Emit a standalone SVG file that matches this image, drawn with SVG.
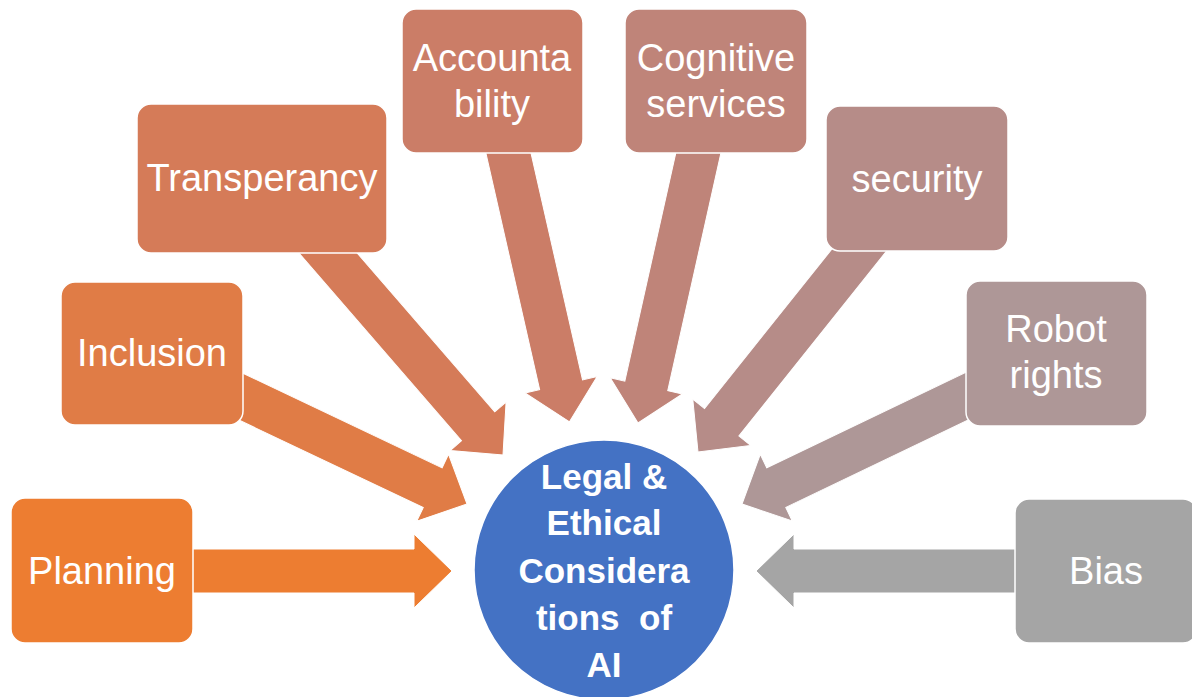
<svg xmlns="http://www.w3.org/2000/svg" width="1192" height="697" viewBox="0 0 1192 697">
<style>
.bx{stroke:#ffffff;stroke-width:1.5}
.ar{stroke:#ffffff;stroke-width:1}
.lbl{font-family:"Liberation Sans",Arial,sans-serif;font-size:38px;fill:#ffffff;text-anchor:middle}
.ctr{font-family:"Liberation Sans",Arial,sans-serif;font-size:35px;font-weight:bold;fill:#ffffff;text-anchor:middle}
.c0{fill:#ED7D31}.c1{fill:#E07C46}.c2{fill:#D57B58}.c3{fill:#CB7D67}
.c4{fill:#BF8479}.c5{fill:#B68C88}.c6{fill:#AE9797}.c7{fill:#A5A5A5}
</style>
<rect width="1192" height="697" fill="#ffffff"/>
<g id="connectors">
<polygon class="ar c0" transform="translate(452,571) rotate(0)" points="0,0 -38,-37 -38,-22 -262,-22 -262,22 -38,22 -38,37"/>
<polygon class="ar c1" transform="translate(467,504) rotate(25.4)" points="0,0 -38,-37 -38,-22 -300,-22 -300,22 -38,22 -38,37"/>
<polygon class="ar c2" transform="translate(503,455) rotate(49.1)" points="0,0 -38,-37 -38,-22 -300,-22 -300,22 -38,22 -38,37"/>
<polygon class="ar c3" transform="translate(569.5,421.8) rotate(77.2)" points="0,0 -38,-37 -38,-22 -300,-22 -300,22 -38,22 -38,37"/>
<polygon class="ar c4" transform="translate(638,423) rotate(102.6)" points="0,0 -38,-37 -38,-22 -300,-22 -300,22 -38,22 -38,37"/>
<polygon class="ar c5" transform="translate(698,452) rotate(128.6)" points="0,0 -38,-37 -38,-22 -290,-22 -290,22 -38,22 -38,37"/>
<polygon class="ar c6" transform="translate(742,504) rotate(154.4)" points="0,0 -38,-37 -38,-22 -290,-22 -290,22 -38,22 -38,37"/>
<polygon class="ar c7" transform="translate(756,571) rotate(180)" points="0,0 -38,-37 -38,-22 -262,-22 -262,22 -38,22 -38,37"/>
</g>
<g id="planning">
<rect class="bx c0" x="11" y="498" width="182" height="145" rx="14"/>
<text class="lbl" x="102" y="584">Planning</text>
</g>
<g id="inclusion">
<rect class="bx c1" x="61" y="282" width="182" height="143" rx="14"/>
<text class="lbl" x="152" y="366">Inclusion</text>
</g>
<g id="transperancy">
<rect class="bx c2" x="137" y="104" width="250" height="149" rx="14"/>
<text class="lbl" x="262" y="191">Transperancy</text>
</g>
<g id="accountability">
<rect class="bx c3" x="402" y="9" width="181" height="144" rx="14"/>
<text class="lbl" x="492" y="71">Accounta</text>
<text class="lbl" x="492" y="117">bility</text>
</g>
<g id="cognitive">
<rect class="bx c4" x="625" y="9" width="182" height="144" rx="14"/>
<text class="lbl" x="716" y="71">Cognitive</text>
<text class="lbl" x="716" y="117">services</text>
</g>
<g id="security">
<rect class="bx c5" x="826" y="106" width="182" height="145" rx="14"/>
<text class="lbl" x="917" y="192">security</text>
</g>
<g id="robot">
<rect class="bx c6" x="966" y="281" width="181" height="145" rx="14"/>
<text class="lbl" x="1056" y="342">Robot</text>
<text class="lbl" x="1056" y="388">rights</text>
</g>
<g id="bias">
<rect class="bx c7" x="1015" y="499" width="182" height="144" rx="14"/>
<text class="lbl" x="1106" y="584">Bias</text>
</g>
<g id="center">
<circle cx="604" cy="570" r="130" fill="#4472C4" stroke="#ffffff" stroke-width="1.5"/>
<text class="ctr" x="604" y="489">Legal &amp;</text>
<text class="ctr" x="604" y="535">Ethical</text>
<text class="ctr" x="604" y="583">Considera</text>
<text class="ctr" x="604" y="630" xml:space="preserve">tions  of</text>
<text class="ctr" x="604" y="677">AI</text>
</g>
</svg>
